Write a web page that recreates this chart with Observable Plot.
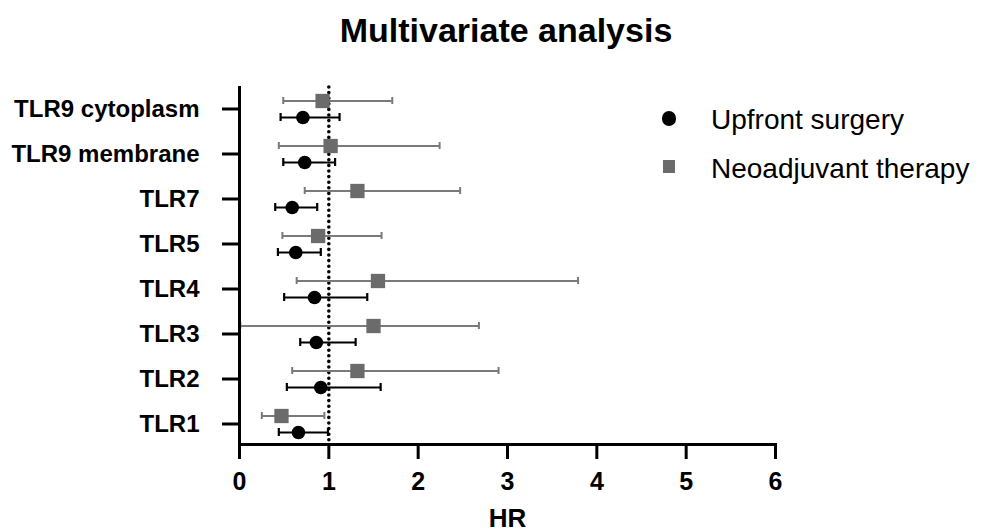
<!DOCTYPE html>
<html>
<head>
<meta charset="utf-8">
<script src="https://cdn.jsdelivr.net/npm/d3@7"></script>
<script src="https://cdn.jsdelivr.net/npm/@observablehq/plot@0.6"></script>
<style>
  html, body { margin: 0; padding: 0; background: #fff; }
  #wrap { position: relative; width: 988px; height: 531px; overflow: hidden; font-family: "Liberation Sans", Arial, sans-serif; color: #000; }
  #title { position: relative; height: 60px; }
  #title span { position: absolute; left: 506px; top: 13px; transform: translateX(-50%); font-size: 34px; line-height: 34px; font-weight: bold; white-space: nowrap; }
  .leg { position: absolute; font-size: 28px; line-height: 28px; white-space: nowrap; }
  .sym { position: absolute; }
</style>
</head>
<body>
<div id="wrap">
  <div id="title"><span>Multivariate analysis</span></div>
  <div id="chart"></div>
  <div class="sym" style="left:661.7px; top:111px; width:14.6px; height:14.6px; border-radius:50%; background:#000;"></div>
  <div class="leg" style="left:711px; top:106px;">Upfront surgery</div>
  <div class="sym" style="left:662.6px; top:160.3px; width:12.8px; height:12.8px; background:#6b6b6b;"></div>
  <div class="leg" style="left:711px; top:154.5px;">Neoadjuvant therapy</div>
</div>
<script>
const categories = ["TLR9 cytoplasm", "TLR9 membrane", "TLR7", "TLR5", "TLR4", "TLR3", "TLR2", "TLR1"];
const upfrontHR = [0.71, 0.73, 0.59, 0.63, 0.84, 0.86, 0.91, 0.66];
const upfrontLo = [0.46, 0.49, 0.40, 0.43, 0.50, 0.68, 0.53, 0.44];
const upfrontHi = [1.12, 1.07, 0.87, 0.91, 1.43, 1.30, 1.58, 0.99];
const neoHR = [0.93, 1.02, 1.32, 0.88, 1.55, 1.50, 1.32, 0.47];
const neoLo = [0.49, 0.44, 0.73, 0.48, 0.64, 0.01, 0.59, 0.25];
const neoHi = [1.71, 2.24, 2.47, 1.59, 3.79, 2.68, 2.90, 0.95];
const xTicks = [0, 1, 2, 3, 4, 5, 6];
const referenceHR = [1];

const upfront = categories.map((c, i) => ({cat: c, hr: upfrontHR[i], lo: upfrontLo[i], hi: upfrontHi[i]}));
const neo = categories.map((c, i) => ({cat: c, hr: neoHR[i], lo: neoLo[i], hi: neoHi[i]}));

const neoColor = "#6b6b6b";
const neoBar = "#7a7a7a";
const dyNeo = -8;
const dyUp = 8.5;

const chart = Plot.plot({
  width: 988,
  height: 471,
  marginTop: 27,
  marginBottom: 87,
  marginLeft: 239,
  marginRight: 213,
  style: {fontFamily: "'Liberation Sans', Arial, sans-serif", color: "#000", background: "transparent", overflow: "visible"},
  x: {domain: [0, 6]},
  y: {type: "band", domain: categories, paddingInner: 0.8, paddingOuter: 0.329},
  marks: [
    Plot.ruleX(referenceHR, {x: d => d, stroke: "#000", strokeWidth: 3.6, strokeDasharray: "0,5.6", strokeLinecap: "round"}),
    Plot.ruleY(neo, {y: "cat", x1: "lo", x2: "hi", stroke: neoBar, strokeWidth: 2, dy: dyNeo}),
    Plot.tickX(neo, {y: "cat", x: "lo", stroke: neoBar, strokeWidth: 2, dy: dyNeo, insetTop: 1, insetBottom: 1}),
    Plot.tickX(neo, {y: "cat", x: "hi", stroke: neoBar, strokeWidth: 2, dy: dyNeo, insetTop: 1, insetBottom: 1}),
    Plot.ruleY(upfront, {y: "cat", x1: "lo", x2: "hi", stroke: "#000", strokeWidth: 2.2, dy: dyUp}),
    Plot.tickX(upfront, {y: "cat", x: "lo", stroke: "#000", strokeWidth: 2.2, dy: dyUp, insetTop: 0.5, insetBottom: 0.5}),
    Plot.tickX(upfront, {y: "cat", x: "hi", stroke: "#000", strokeWidth: 2.2, dy: dyUp, insetTop: 0.5, insetBottom: 0.5}),
    Plot.dot(neo, {y: "cat", x: "hr", symbol: "square", r: 8.07, fill: neoColor, stroke: "none", dy: dyNeo}),
    Plot.dot(upfront, {y: "cat", x: "hr", symbol: "circle", r: 6.8, fill: "#000", stroke: "none", dy: dyUp}),
    Plot.axisX({ticks: xTicks, tickFormat: d => String(d), tickSize: 15, tickPadding: 13, strokeWidth: 3, fontSize: 25, fontWeight: "bold", label: null}),
    Plot.axisY({tickSize: 17, tickPadding: 23, strokeWidth: 3, fontSize: 24, fontWeight: "bold", label: null}),
    Plot.frame({anchor: "left", strokeWidth: 3, strokeLinecap: "square"}),
    Plot.frame({anchor: "bottom", strokeWidth: 3, strokeLinecap: "square"}),
    Plot.text(["HR"], {text: d => d, frameAnchor: "bottom", dy: 82, lineAnchor: "bottom", fontSize: 26, fontWeight: "bold"})
  ]
});
document.getElementById("chart").appendChild(chart);
</script>
</body>
</html>
